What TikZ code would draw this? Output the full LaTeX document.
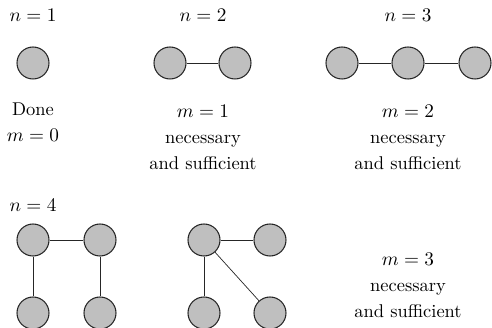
\documentclass[tikz,border=0pt]{standalone}
\usepackage{amsmath}
\usetikzlibrary{positioning,calc}

\begin{document}
\begin{tikzpicture}[
  vert/.style={circle, draw=black!85, fill=lightgray, minimum size=6.4mm, inner sep=0pt, semithick},
  edge/.style={draw=black!85, thin},
  lbl/.style={align=center, font=\fontsize{10.5}{14.8}\selectfont}
]
\useasboundingbox (0,0) rectangle (9.84,-6.56);

% top row
\node[lbl] (tn1) at (0.66,-0.30) {$n=1$};
\node[lbl] (tn2) at (4.06,-0.30) {$n=2$};
\node[lbl] (tn3) at (8.16,-0.30) {$n=3$};

\node[vert] (a1) at (0.66,-1.26) {};

\node[vert] (b1) at (3.40,-1.26) {};
\node[vert] (b2) at (4.70,-1.26) {};

\node[vert] (c1) at (6.84,-1.26) {};
\node[vert] (c2) at (8.16,-1.26) {};
\node[vert] (c3) at (9.50,-1.26) {};

\draw[edge] (b1)--(b2);
\draw[edge] (c1)--(c2)--(c3);

\node[lbl] (done) at (0.66,-2.45) {Done\\$m=0$};
\node[lbl] (res1) at (4.06,-2.74) {$m=1$\\necessary\\and sufficient};
\node[lbl] (res2) at (8.16,-2.74) {$m=2$\\necessary\\and sufficient};

% bottom row
\node[lbl] (tn4) at (0.66,-4.10) {$n=4$};

\node[vert] (p1) at (0.66,-4.80) {};
\node[vert] (p2) at (2.00,-4.80) {};
\node[vert] (p3) at (0.66,-6.26) {};
\node[vert] (p4) at (2.00,-6.26) {};

\node[vert] (q1) at (4.08,-4.80) {};
\node[vert] (q2) at (5.40,-4.80) {};
\node[vert] (q3) at (4.08,-6.26) {};
\node[vert] (q4) at (5.40,-6.26) {};

\draw[edge] (p1)--(p2);
\draw[edge] (p1)--(p3);
\draw[edge] (p2)--(p4);

\draw[edge] (q1)--(q2);
\draw[edge] (q1)--(q3);
\draw[edge] (q1)--(q4);

\node[lbl] (res3) at (8.16,-5.70) {$m=3$\\necessary\\and sufficient};
\end{tikzpicture}
\end{document}
